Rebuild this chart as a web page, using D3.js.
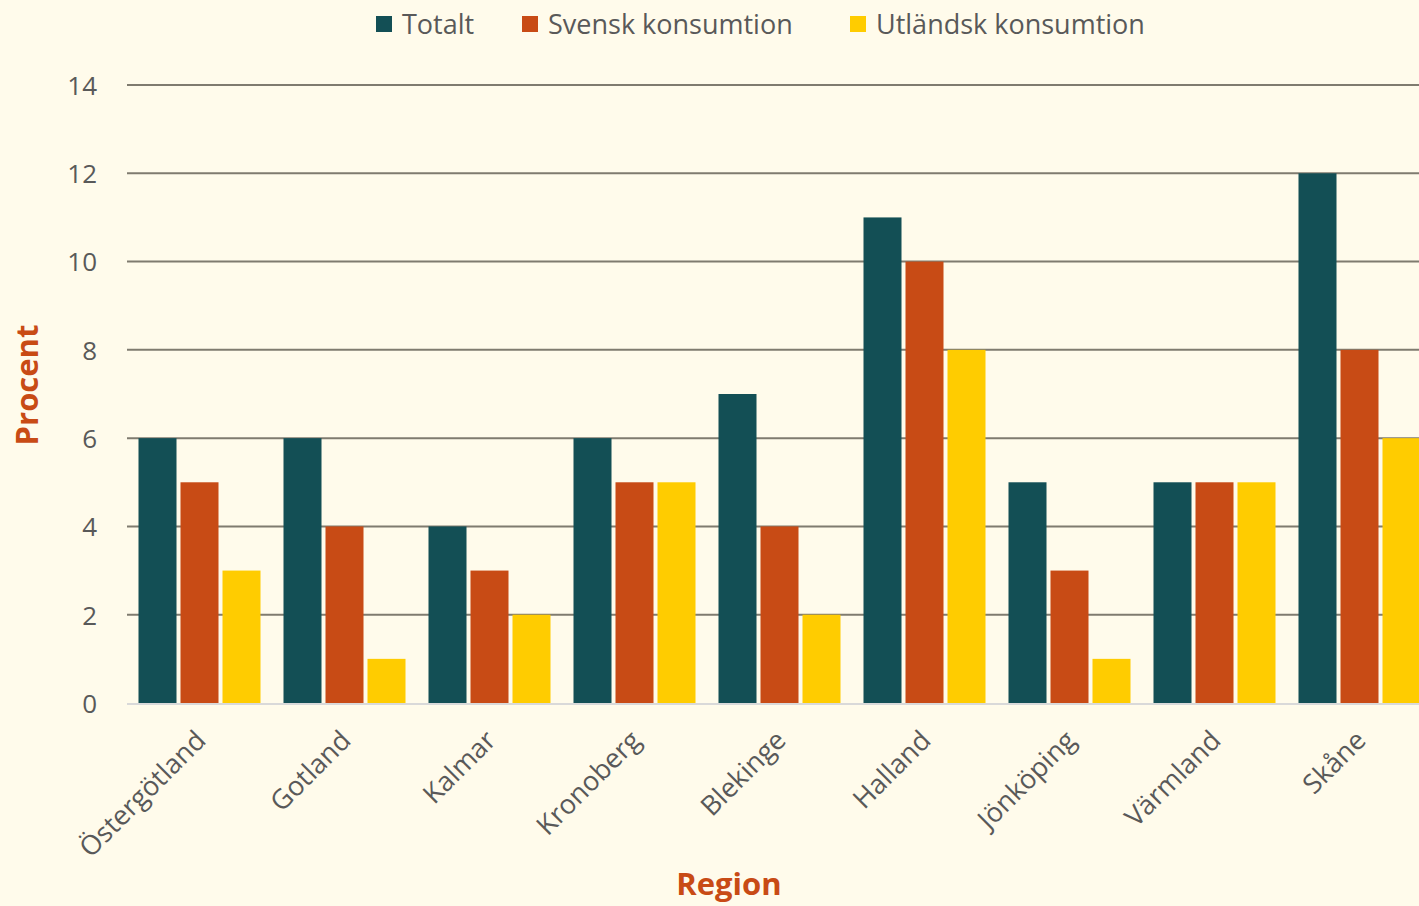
<!DOCTYPE html>
<html><head><meta charset="utf-8">
<script src="https://cdn.jsdelivr.net/npm/d3@7"></script>
<style>
html,body{margin:0;padding:0;background:#FFFBEB;overflow:hidden;}
svg{display:block;}
text{font-family:"Open Sans",Lato,sans-serif;}
</style></head><body>
<svg id="chart" width="1419" height="906"></svg>
<script>
const categories = ["Östergötland","Gotland","Kalmar","Kronoberg","Blekinge","Halland","Jönköping","Värmland","Skåne"];
const seriesNames = ["Totalt","Svensk konsumtion","Utländsk konsumtion"];
const totalt = [6,6,4,6,7,11,5,5,12];
const svensk = [5,4,3,5,4,10,3,5,8];
const utlandsk = [3,1,2,5,2,8,1,5,6];
const colors = ["#134F55","#C84B15","#FFCC00"];
const yTicks = [0,2,4,6,8,10,12,14];

const seriesValues = [totalt, svensk, utlandsk];
const data = categories.map((c,i)=>({cat:c, vals: seriesNames.map((s,j)=>({s, v: seriesValues[j][i]}))}));

const svg = d3.select("#chart");
svg.append("rect").attr("width",1419).attr("height",906).attr("fill","#FFFBEB");

const x0 = d3.scaleBand().domain(categories).range([127,1432]).paddingInner(23/145).paddingOuter(23/290);
const x1 = d3.scaleBand().domain(seriesNames).range([0,x0.bandwidth()]).paddingInner(4/42).paddingOuter(0);
const y = d3.scaleLinear().domain([0,14]).range([703,85]);

// gridlines
const grid = svg.append("g");
grid.selectAll("line").data(yTicks.filter(t=>t>0)).join("line")
  .attr("x1",127).attr("x2",1419).attr("y1",d=>y(d)).attr("y2",d=>y(d))
  .attr("stroke","#7F7B6F").attr("stroke-width",2);

// y axis labels
const yAxis = d3.axisLeft(y).tickValues(yTicks).tickSize(0).tickPadding(0);
const yg = svg.append("g").attr("transform","translate(97,0)").call(yAxis);
yg.select(".domain").remove();
yg.selectAll("text").attr("font-size",26).attr("fill","#595959").attr("font-family","'Open Sans',sans-serif").attr("dy","0.36em");

// bars
const groups = svg.append("g").selectAll("g").data(data).join("g")
  .attr("transform",d=>`translate(${x0(d.cat)},0)`);
groups.selectAll("rect").data(d=>d.vals).join("rect")
  .attr("x",d=>x1(d.s)).attr("width",x1.bandwidth())
  .attr("y",d=>y(d.v)).attr("height",d=>y(0)-y(d.v))
  .attr("fill",(d,i)=>colors[i]);

// baseline
svg.append("line").attr("x1",127).attr("x2",1419).attr("y1",y(0)+1).attr("y2",y(0)+1)
  .attr("stroke","#D9D9D9").attr("stroke-width",2);

// x axis labels
const xAxis = d3.axisBottom(x0).tickSize(0).tickPadding(0);
const xg = svg.append("g").attr("transform",`translate(0,${y(0)})`).call(xAxis);
xg.select(".domain").remove();
xg.selectAll("text")
  .attr("font-size",27).attr("fill","#595959").attr("font-family","'Open Sans',sans-serif")
  .attr("text-anchor","end").attr("dy",null).attr("y",0)
  .attr("transform","translate(8,39) rotate(-45)");

// axis titles
svg.append("text").attr("x",729).attr("y",895).attr("text-anchor","middle")
  .attr("font-size",31).attr("font-weight","bold").attr("fill","#C84B15").text("Region");
svg.append("text").attr("transform","translate(38,385) rotate(-90)").attr("text-anchor","middle")
  .attr("font-size",31).attr("font-weight","bold").attr("fill","#C84B15").text("Procent");

// legend
const legX = [376,522,850];
const leg = svg.append("g").selectAll("g").data(seriesNames).join("g")
  .attr("transform",(d,i)=>`translate(${legX[i]},0)`);
leg.append("rect").attr("x",0).attr("y",16).attr("width",16).attr("height",16).attr("fill",(d,i)=>colors[i]);
leg.append("text").attr("x",26).attr("y",34).attr("font-size",27).attr("fill","#595959").text(d=>d);
</script>
</body></html>
